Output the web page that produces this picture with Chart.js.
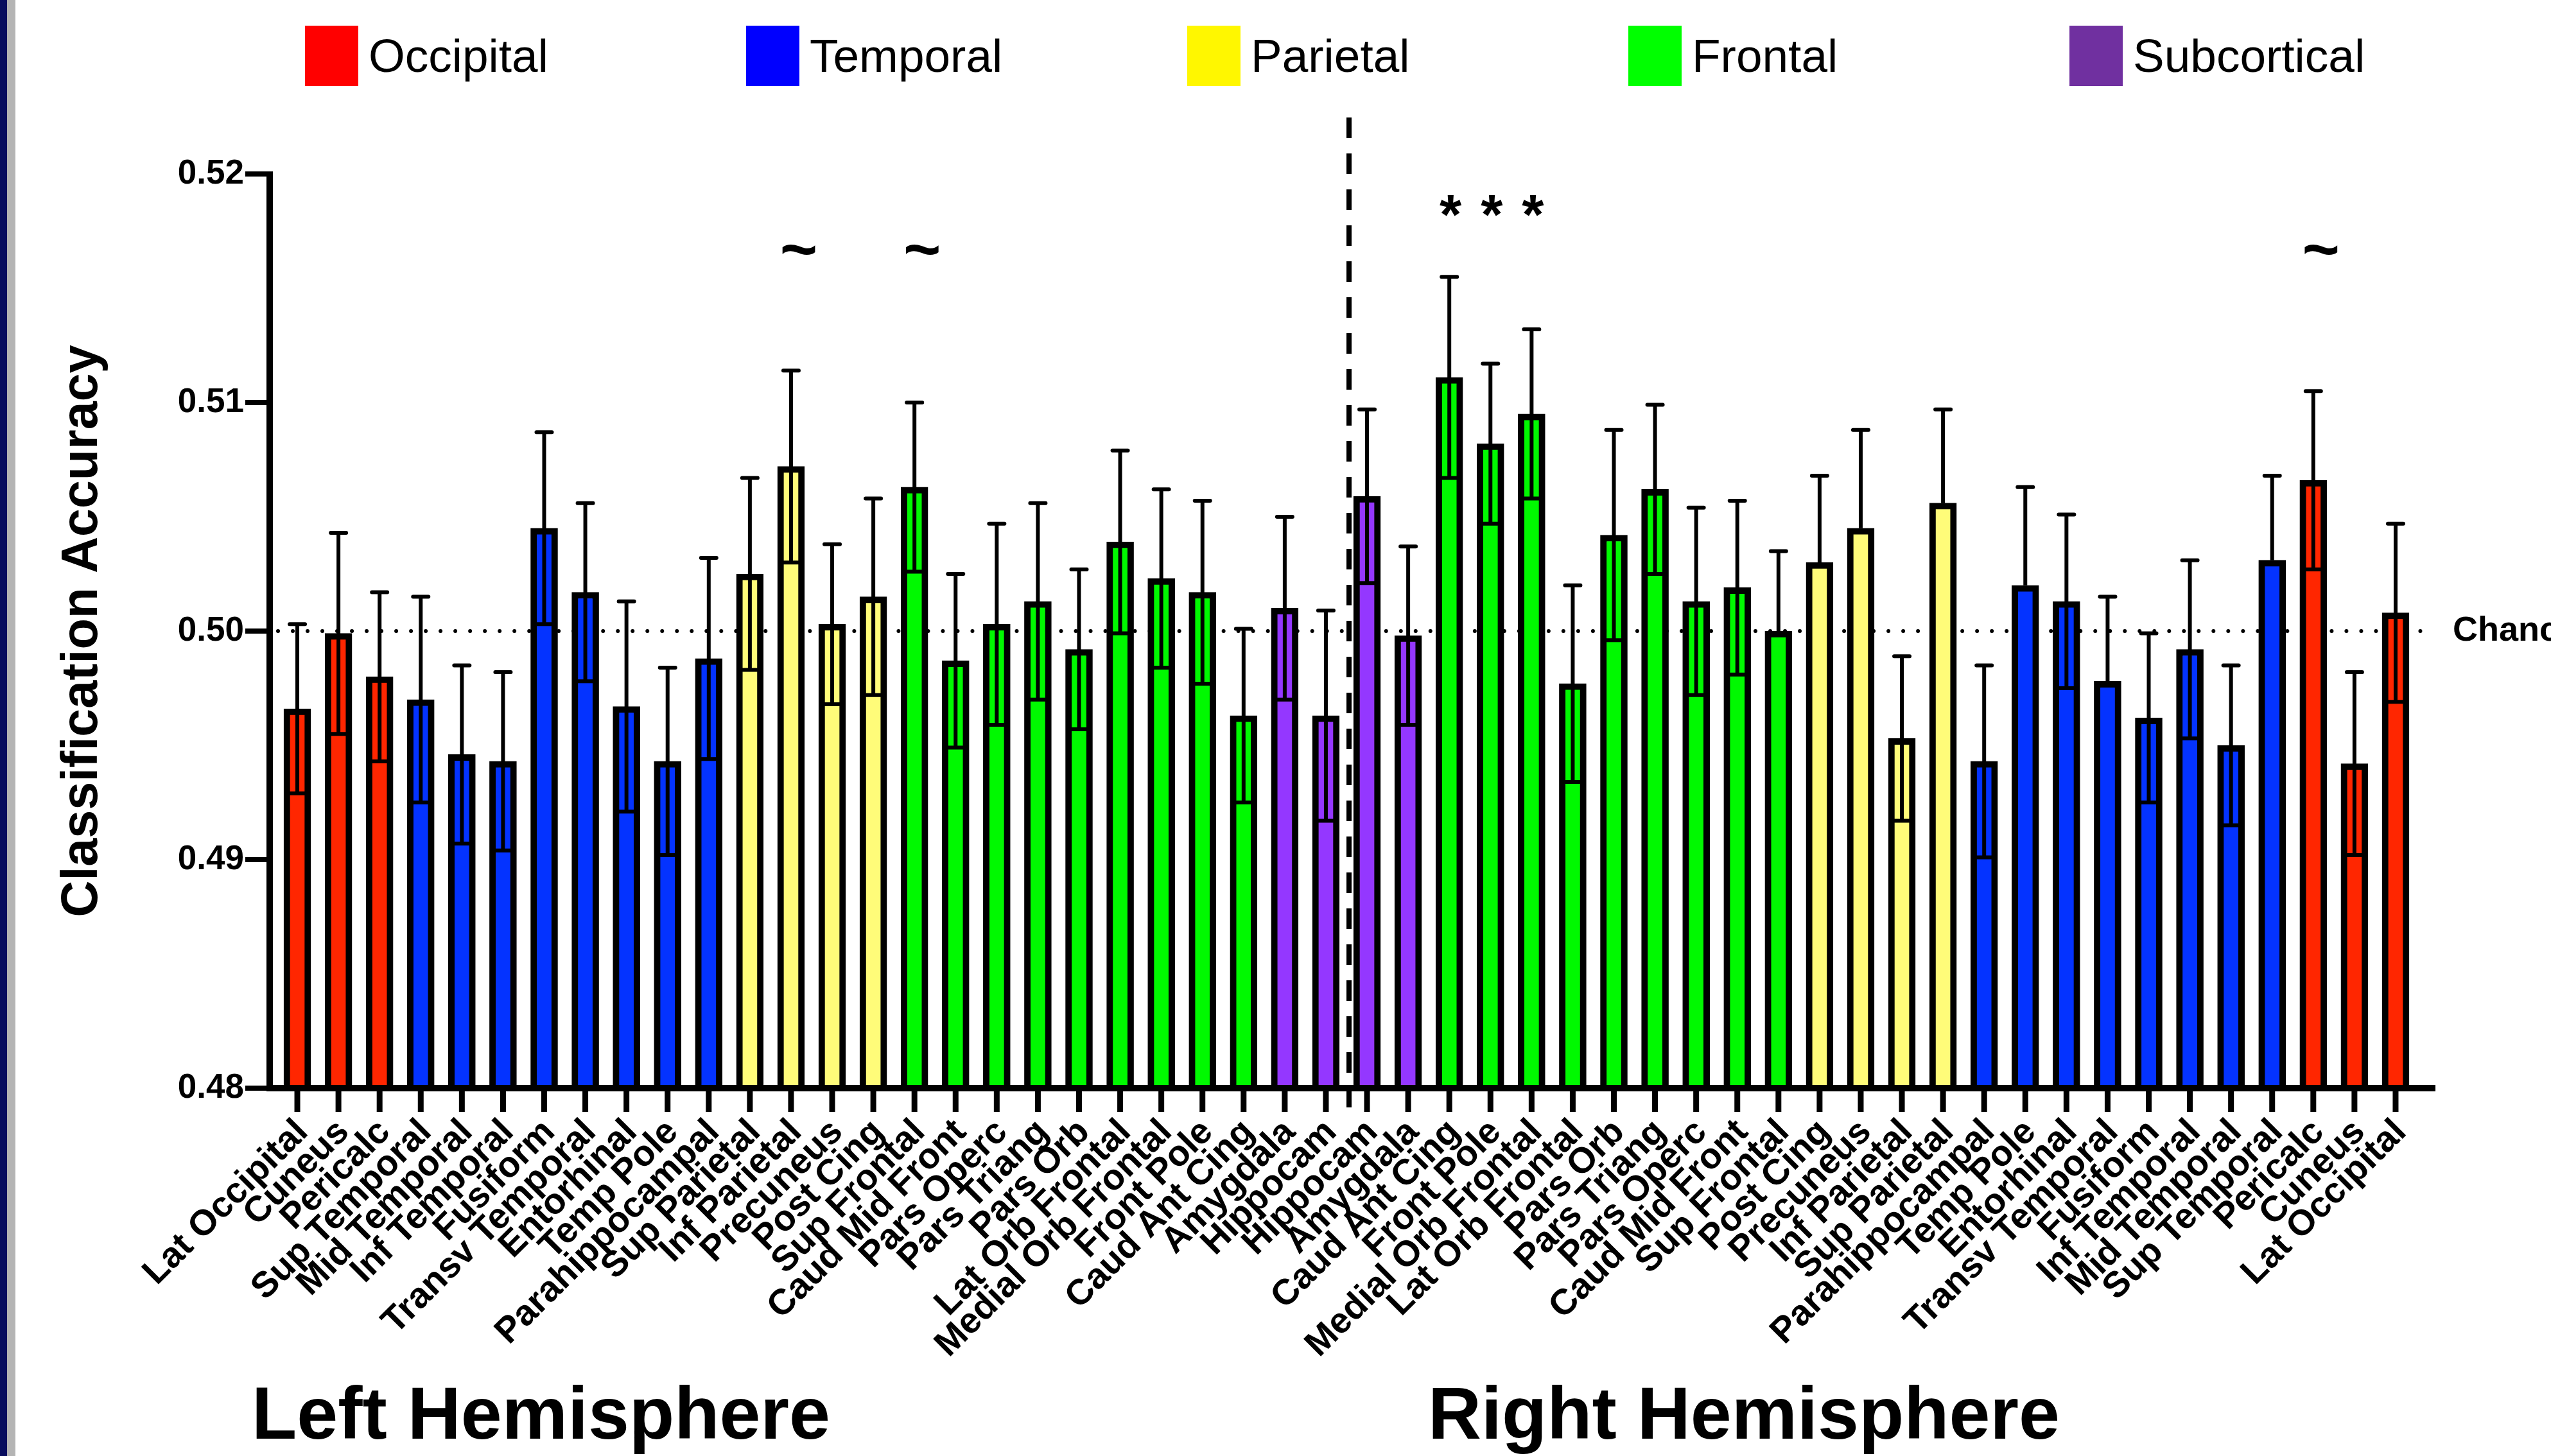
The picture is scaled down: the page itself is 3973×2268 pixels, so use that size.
<!DOCTYPE html>
<html>
<head>
<meta charset="utf-8">
<script src="https://cdn.jsdelivr.net/npm/chart.js@4.4.1/dist/chart.umd.min.js"></script>
<style>
  html, body { margin: 0; padding: 0; background: #fff; }
  #wrap { position: relative; width: 3973px; height: 2268px; overflow: hidden; }
  #chart { position: absolute; left: 0; top: 0; }
  #navy { position: absolute; left: 0; top: 0; width: 11px; height: 2268px; background: #070c5e; }
  #grey { position: absolute; left: 11px; top: 0; width: 13px; height: 2268px; background: #b4b4b4; }
</style>
</head>
<body>
<div id="wrap">
  <canvas id="chart" width="3973" height="2268"></canvas>
  <div id="navy"></div><div id="grey"></div>
</div>
<script>
// regions, left hemisphere then right hemisphere
const leftRegions = ['Lat Occipital', 'Cuneus', 'Pericalc', 'Sup Temporal', 'Mid Temporal', 'Inf Temporal',
  'Fusiform', 'Transv Temporal', 'Entorhinal', 'Temp Pole', 'Parahippocampal', 'Sup Parietal',
  'Inf Parietal', 'Precuneus', 'Post Cing', 'Sup Frontal', 'Caud Mid Front', 'Pars Operc',
  'Pars Triang', 'Pars Orb', 'Lat Orb Frontal', 'Medial Orb Frontal', 'Front Pole', 'Caud Ant Cing',
  'Amygdala', 'Hippocam'];
const rightRegions = ['Hippocam', 'Amygdala', 'Caud Ant Cing', 'Front Pole', 'Medial Orb Frontal',
  'Lat Orb Frontal', 'Pars Orb', 'Pars Triang', 'Pars Operc', 'Caud Mid Front', 'Sup Frontal',
  'Post Cing', 'Precuneus', 'Inf Parietal', 'Sup Parietal', 'Parahippocampal', 'Temp Pole',
  'Entorhinal', 'Transv Temporal', 'Fusiform', 'Inf Temporal', 'Mid Temporal', 'Sup Temporal',
  'Pericalc', 'Cuneus', 'Lat Occipital'];

const leftLobe = ['Occipital', 'Occipital', 'Occipital', 'Temporal', 'Temporal', 'Temporal',
  'Temporal', 'Temporal', 'Temporal', 'Temporal', 'Temporal', 'Parietal',
  'Parietal', 'Parietal', 'Parietal', 'Frontal', 'Frontal', 'Frontal',
  'Frontal', 'Frontal', 'Frontal', 'Frontal', 'Frontal', 'Frontal',
  'Subcortical', 'Subcortical'];
const rightLobe = ['Subcortical', 'Subcortical', 'Frontal', 'Frontal', 'Frontal',
  'Frontal', 'Frontal', 'Frontal', 'Frontal', 'Frontal', 'Frontal',
  'Parietal', 'Parietal', 'Parietal', 'Parietal', 'Temporal', 'Temporal',
  'Temporal', 'Temporal', 'Temporal', 'Temporal', 'Temporal', 'Temporal',
  'Occipital', 'Occipital', 'Occipital'];

const leftAccuracy = [0.4966, 0.4999, 0.4980, 0.4970, 0.4946, 0.4943,
  0.5045, 0.5017, 0.4967, 0.4943, 0.4988, 0.5025,
  0.5072, 0.5003, 0.5015, 0.5063, 0.4987, 0.5003,
  0.5013, 0.4992, 0.5039, 0.5023, 0.5017, 0.4963,
  0.5010, 0.4963];
const rightAccuracy = [0.5059, 0.4998, 0.5111, 0.5082, 0.5095,
  0.4977, 0.5042, 0.5062, 0.5013, 0.5019, 0.5000,
  0.5030, 0.5045, 0.4953, 0.5056, 0.4943, 0.5020,
  0.5013, 0.4978, 0.4962, 0.4992, 0.4950, 0.5031,
  0.5066, 0.4942, 0.5008];

const leftSem = [0.0037, 0.0044, 0.0037, 0.0045, 0.0039, 0.0039,
  0.0042, 0.0039, 0.0046, 0.0041, 0.0044, 0.0042,
  0.0042, 0.0035, 0.0043, 0.0037, 0.0038, 0.0044,
  0.0043, 0.0035, 0.0040, 0.0039, 0.0040, 0.0038,
  0.0040, 0.0046];
const rightSem = [0.0038, 0.0039, 0.0044, 0.0035, 0.0037,
  0.0043, 0.0046, 0.0037, 0.0041, 0.0038, 0.0035,
  0.0038, 0.0043, 0.0036, 0.0041, 0.0042, 0.0043,
  0.0038, 0.0037, 0.0037, 0.0039, 0.0035, 0.0037,
  0.0039, 0.0040, 0.0039];

// some right hemisphere bars show only the upper half of the error bar
const leftSemBelow = leftRegions.map(() => true);
const rightSemBelow = [true, true, true, true, true,
  true, true, true, true, true, false,
  false, false, true, false, true, false,
  true, false, true, true, true, false,
  true, true, true];

const leftMarks = ['', '', '', '', '', '', '', '', '', '', '', '', '~', '', '', '~',
  '', '', '', '', '', '', '', '', '', ''];
const rightMarks = ['', '', '*', '*', '*', '', '', '', '', '', '', '', '', '', '', '',
  '', '', '', '', '', '', '', '~', '', ''];

const lobeNames = ['Occipital', 'Temporal', 'Parietal', 'Frontal', 'Subcortical'];
const lobeBarColors = ['#ff2600', '#0433ff', '#fffc79', '#00f900', '#9437ff'];
const lobeLegendColors = ['#ff0000', '#0000ff', '#fff700', '#00ff00', '#7030a0'];

const yTicks = [0.48, 0.49, 0.50, 0.51, 0.52];
const chanceLevel = 0.50;

const labels = leftRegions.concat(rightRegions);
const accuracy = leftAccuracy.concat(rightAccuracy);
const sem = leftSem.concat(rightSem);
const semBelow = leftSemBelow.concat(rightSemBelow);
const marks = leftMarks.concat(rightMarks);
const barColors = leftLobe.concat(rightLobe).map(l => lobeBarColors[lobeNames.indexOf(l)]);

const FONT = '"Liberation Sans", Arial, Helvetica, sans-serif';
Chart.defaults.font.family = FONT;
Chart.defaults.color = '#000';

const decorations = {
  id: 'decorations',
  beforeDatasetsDraw(chart) {
    const {ctx, scales: {x, y}} = chart;
    const yc = y.getPixelForValue(chanceLevel);
    ctx.save();
    ctx.strokeStyle = '#000';
    ctx.lineWidth = 6;
    ctx.lineCap = 'round';
    ctx.setLineDash([0.01, 23]);
    ctx.beginPath();
    ctx.moveTo(x.left + 2, yc);
    ctx.lineTo(x.right + 26, yc);
    ctx.stroke();
    ctx.restore();
  },
  afterDatasetsDraw(chart) {
    const {ctx, scales: {x, y}} = chart;
    const axisX = x.left - 11;
    const base = y.getPixelForValue(0.48);
    ctx.save();
    ctx.strokeStyle = '#000';
    ctx.fillStyle = '#000';

    // error bars
    accuracy.forEach((v, i) => {
      const px = x.getPixelForValue(i);
      const top = y.getPixelForValue(v + sem[i]);
      const bot = semBelow[i] ? y.getPixelForValue(v - sem[i]) : y.getPixelForValue(v);
      ctx.lineWidth = 6;
      ctx.lineCap = 'butt';
      ctx.beginPath();
      ctx.moveTo(px, top);
      ctx.lineTo(px, bot);
      ctx.stroke();
      ctx.lineCap = 'round';
      ctx.beginPath();
      ctx.moveTo(px - 12, top);
      ctx.lineTo(px + 12, top);
      if (semBelow[i]) {
        ctx.moveTo(px - 12, bot);
        ctx.lineTo(px + 12, bot);
      }
      ctx.stroke();
    });

    // axes
    ctx.lineCap = 'butt';
    ctx.lineWidth = 10;
    ctx.beginPath();
    ctx.moveTo(axisX, y.getPixelForValue(0.52) - 4);
    ctx.lineTo(axisX, base + 5);
    ctx.moveTo(axisX - 5, base);
    ctx.lineTo(x.right + 30, base);
    ctx.stroke();

    ctx.lineWidth = 8;
    ctx.beginPath();
    yTicks.forEach(t => {
      const py = y.getPixelForValue(t);
      ctx.moveTo(axisX - 38, py);
      ctx.lineTo(axisX, py);
    });
    ctx.stroke();

    ctx.lineWidth = 9;
    ctx.beginPath();
    labels.forEach((l, i) => {
      const px = x.getPixelForValue(i);
      ctx.moveTo(px, base);
      ctx.lineTo(px, base + 37);
    });
    ctx.stroke();

    // hemisphere divider
    const dx = (x.getPixelForValue(leftRegions.length - 1) + x.getPixelForValue(leftRegions.length)) / 2 + 4;
    ctx.lineWidth = 8;
    ctx.setLineDash([32, 24]);
    ctx.beginPath();
    ctx.moveTo(dx, y.top - 88);
    ctx.lineTo(dx, base + 30);
    ctx.stroke();
    ctx.setLineDash([]);

    // significance marks
    marks.forEach((m, i) => {
      if (!m) return;
      const px = x.getPixelForValue(i);
      ctx.textAlign = 'center';
      ctx.textBaseline = 'alphabetic';
      if (m === '~') {
        ctx.font = 'bold 100px ' + FONT;
        ctx.fillText(m, px + 12, 422);
      } else {
        ctx.font = 'bold 88px ' + FONT;
        ctx.fillText(m, px + 2, 364);
      }
    });

    // chance label
    ctx.font = 'bold 54px ' + FONT;
    ctx.textAlign = 'left';
    ctx.textBaseline = 'middle';
    ctx.fillText('Chance', x.right + 57, y.getPixelForValue(chanceLevel));
    ctx.restore();
  },
  afterDraw(chart) {
    const {ctx} = chart;
    ctx.save();
    // legend
    ctx.font = '73px ' + FONT;
    ctx.textAlign = 'left';
    ctx.textBaseline = 'alphabetic';
    lobeNames.forEach((name, i) => {
      const bx = 475 + 687 * i;
      ctx.fillStyle = lobeLegendColors[i];
      ctx.fillRect(bx, 40, 83, 94);
      ctx.fillStyle = '#000';
      ctx.fillText(name, bx + 99, 112);
    });
    // hemisphere captions
    ctx.font = 'bold 115px ' + FONT;
    ctx.fillText('Left Hemisphere', 392, 2241);
    ctx.fillText('Right Hemisphere', 2224, 2241);
    ctx.restore();
  }
};

new Chart(document.getElementById('chart'), {
  type: 'bar',
  data: {
    labels: labels,
    datasets: [{
      label: 'Classification accuracy',
      data: accuracy,
      base: 0.48,
      backgroundColor: barColors,
      borderColor: '#000',
      borderWidth: 10,
      borderSkipped: 'start',
      barThickness: 42
    }]
  },
  options: {
    responsive: false,
    animation: false,
    layout: { padding: { top: 271, right: 210, bottom: 0, left: 0 } },
    plugins: {
      legend: { display: false },
      tooltip: { enabled: false }
    },
    scales: {
      x: {
        type: 'category',
        offset: true,
        grid: { display: false, drawTicks: false },
        border: { display: false },
        ticks: {
          autoSkip: false,
          minRotation: 45,
          maxRotation: 45,
          padding: 36,
          labelOffset: 8,
          color: '#000',
          font: { size: 56, weight: 'bold' }
        },
        afterFit(scale) { scale.height = 573; }
      },
      y: {
        min: 0.48,
        max: 0.52,
        grid: { display: false, drawTicks: false },
        border: { display: false },
        ticks: {
          stepSize: 0.01,
          padding: 51,
          color: '#000',
          font: { size: 53, weight: 'bold' },
          callback: v => v.toFixed(2)
        },
        title: {
          display: true,
          text: 'Classification Accuracy',
          color: '#000',
          font: { size: 79, weight: 'bold' },
          padding: { top: 82, bottom: 0 }
        },
        afterFit(scale) { scale.width = 431; }
      }
    }
  },
  plugins: [decorations]
});
</script>
</body>
</html>
